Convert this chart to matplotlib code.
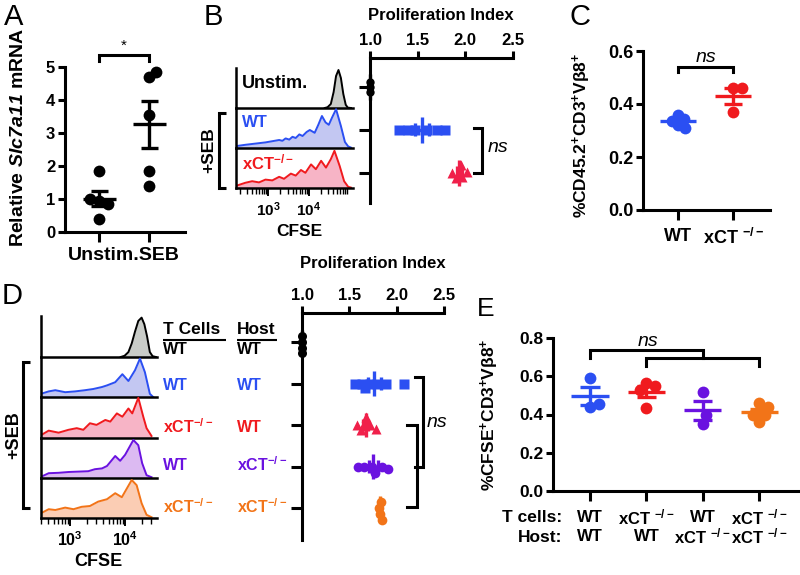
import numpy as np
import matplotlib
matplotlib.use('Agg')
import matplotlib.pyplot as plt
from matplotlib.lines import Line2D
from matplotlib.ticker import LogLocator, NullFormatter, FixedLocator

plt.rcParams['font.family'] = ['Liberation Sans', 'DejaVu Sans']
plt.rcParams['font.weight'] = 'bold'
plt.rcParams['mathtext.fontset'] = 'custom'
plt.rcParams['mathtext.rm'] = 'Liberation Sans'
plt.rcParams['mathtext.bf'] = 'Liberation Sans:bold'
plt.rcParams['mathtext.it'] = 'Liberation Sans:italic'
plt.rcParams['mathtext.bfit'] = 'Liberation Sans:bold:italic'

# ---------------- data ----------------
# A: relative Slc7a11 mRNA
a_labels = ['Unstim.', 'SEB']
a_unstim = [1.85, 0.95, 0.85, 1.0, 0.4]
a_seb = [4.7, 4.85, 3.55, 1.85, 1.4]

# B: CFSE histograms (log10 CFSE, relative height)
b_unstim_log = [4.40, 4.47, 4.55, 4.62, 4.68, 4.74, 4.80, 4.86, 4.92, 4.97, 5.05]
b_unstim_h = [0.0, 0.02, 0.10, 0.40, 0.80, 0.95, 0.75, 0.35, 0.08, 0.01, 0.0]
b_wt_log = [2.22, 2.43, 2.68, 2.93, 3.10, 3.27, 3.35, 3.43, 3.52, 3.60, 3.68, 3.77, 3.85,
            3.95, 4.03, 4.15, 4.24, 4.33, 4.42, 4.50, 4.58, 4.68, 4.80, 4.90, 4.98, 5.05]
b_wt_h = [0.05, 0.08, 0.11, 0.14, 0.17, 0.20, 0.18, 0.24, 0.21, 0.28, 0.25, 0.34, 0.30,
          0.40, 0.45, 0.38, 0.58, 0.80, 0.64, 0.58, 0.76, 0.97, 0.55, 0.15, 0.04, 0.01]
b_ko_log = [2.22, 2.43, 2.60, 2.77, 2.93, 3.10, 3.27, 3.39, 3.56, 3.68, 3.81, 3.92, 4.06,
            4.18, 4.31, 4.43, 4.55, 4.64, 4.77, 4.88, 4.98, 5.05]
b_ko_h = [0.06, 0.13, 0.17, 0.14, 0.21, 0.19, 0.28, 0.23, 0.36, 0.31, 0.45, 0.38, 0.59,
          0.47, 0.68, 0.51, 0.72, 0.93, 0.55, 0.17, 0.03, 0.01]
# B: proliferation index
b_pi_unstim = [1.0, 1.0, 1.0]
b_pi_wt = [1.30, 1.40, 1.47, 1.60, 1.70, 1.79]
b_pi_ko = [1.86, 1.90, 1.93, 1.95, 1.97, 2.02]

# C: %CD45.2+CD3+Vb8+
c_labels = ['WT', r'xCT $^{\mathbf{-/-}}$']
c_wt = [0.36, 0.345, 0.32, 0.31, 0.335]
c_ko = [0.46, 0.46, 0.37]

# D: CFSE histograms
d_unstim_log = [3.92, 3.99, 4.06, 4.12, 4.18, 4.24, 4.30, 4.35, 4.40, 4.45, 4.50, 4.56]
d_unstim_h = [0.0, 0.03, 0.12, 0.33, 0.62, 0.88, 0.96, 0.80, 0.50, 0.12, 0.02, 0.0]
d_wt_wt_log = [2.47, 2.61, 2.73, 2.91, 3.09, 3.27, 3.42, 3.58, 3.67, 3.82, 3.95, 4.06,
               4.18, 4.27, 4.36, 4.45, 4.51]
d_wt_wt_h = [0.08, 0.14, 0.17, 0.12, 0.14, 0.17, 0.20, 0.25, 0.29, 0.37, 0.57, 0.40,
             0.67, 0.96, 0.62, 0.08, 0.0]
d_ko_wt_log = [2.47, 2.61, 2.79, 2.97, 3.12, 3.24, 3.36, 3.48, 3.64, 3.73, 3.85, 3.95,
               4.06, 4.13, 4.24, 4.33, 4.39, 4.48]
d_ko_wt_h = [0.07, 0.18, 0.13, 0.20, 0.24, 0.20, 0.36, 0.32, 0.44, 0.40, 0.60, 0.52,
             0.72, 0.60, 0.98, 0.52, 0.24, 0.05]
d_wt_ko_log = [2.47, 2.61, 2.79, 2.97, 3.15, 3.33, 3.45, 3.58, 3.67, 3.82, 3.91, 4.00,
               4.15, 4.24, 4.31, 4.39, 4.48]
d_wt_ko_h = [0.03, 0.12, 0.13, 0.15, 0.16, 0.17, 0.22, 0.24, 0.30, 0.55, 0.43, 0.58,
             0.95, 0.82, 0.37, 0.07, 0.02]
d_ko_ko_log = [2.47, 2.61, 2.73, 2.91, 3.06, 3.21, 3.36, 3.51, 3.67, 3.82, 3.94, 4.12,
               4.21, 4.30, 4.39, 4.48]
d_ko_ko_h = [0.12, 0.22, 0.20, 0.26, 0.22, 0.28, 0.30, 0.41, 0.47, 0.62, 0.52, 0.95,
             0.82, 0.37, 0.08, 0.02]
d_tcells = ['WT', 'WT', r'xCT$^{\mathbf{-/-}}$', 'WT', r'xCT$^{\mathbf{-/-}}$']
d_host = ['WT', 'WT', 'WT', r'xCT$^{\mathbf{-/-}}$', r'xCT$^{\mathbf{-/-}}$']
# D: proliferation index
d_pi_unstim = [1.0, 1.0, 1.0, 1.0]
d_pi_wt_wt = [1.56, 1.63, 1.67, 1.72, 1.79, 1.89, 2.08]
d_pi_ko_wt = [1.58, 1.62, 1.65, 1.68, 1.72, 1.78]
d_pi_wt_ko = [1.59, 1.66, 1.74, 1.77, 1.85, 1.91]
d_pi_ko_ko = [1.81, 1.82, 1.83, 1.84]

# E: %CFSE+CD3+Vb8+
e_tcells = ['WT', r'xCT $^{\mathbf{-/-}}$', 'WT', r'xCT $^{\mathbf{-/-}}$']
e_host = ['WT', 'WT', r'xCT $^{\mathbf{-/-}}$', r'xCT $^{\mathbf{-/-}}$']
e_vals = [[0.59, 0.44, 0.455],
          [0.565, 0.55, 0.53, 0.435],
          [0.518, 0.352, 0.396],
          [0.46, 0.44, 0.36, 0.395, 0.40]]

# colours
BLUE = '#2b4ff2'
RED = '#f01a1e'
PINK = '#f0204a'
PURPLE = '#6a12e0'
ORANGE = '#f27418'
BLUE_F, RED_F, PURP_F, ORNG_F, GREY_F = '#c3c7f2', '#f7b4c6', '#dcbaf2', '#fbcdb4', '#c9ccc8'

W, H = 800, 575
fig = plt.figure(figsize=(W / 100, H / 100), dpi=100)


def px_axes(x0, x1, y0, y1):
    return fig.add_axes([x0 / W, 1 - y1 / H, (x1 - x0) / W, (y1 - y0) / H])


def ftext(x, y, s, **kw):
    kw.setdefault('ha', 'center')
    kw.setdefault('va', 'center')
    return fig.text(x / W, 1 - y / H, s, **kw)


def fline(xs, ys, lw=2.2, color='k'):
    fig.add_artist(Line2D([x / W for x in xs], [1 - y / H for y in ys], lw=lw,
                          color=color, solid_capstyle='butt', solid_joinstyle='miter'))


def ppu(ax):
    bb = ax.get_position()
    x0, x1 = ax.get_xlim()
    y0, y1 = ax.get_ylim()
    return bb.width * W / abs(x1 - x0), bb.height * H / abs(y1 - y0)


def swarm(vals, p_val, diam, min_frac=0.75):
    # spread overlapping points sideways (pixels)
    steps = sorted(np.arange(-4, 4.01, 0.125), key=lambda c: (abs(c), -c))
    placed, offs = [], []
    for v in vals:
        p = v * p_val
        o = 0.0
        for c in steps:
            o = c * diam
            if all(np.hypot(p - pp, o - oo) >= min_frac * diam for pp, oo in placed):
                break
        placed.append((p, o))
        offs.append(o)
    return np.array(offs)


def dot_group(ax, cat, vals, color, marker='o', ms=8, horizontal=False,
              mean_half=0.33, cap_half=0.17, lw=2.4, min_frac=0.75):
    vals = np.asarray(vals, float)
    px, py = ppu(ax)
    p_val, p_cat = (px, py) if horizontal else (py, px)
    offs = swarm(vals, p_val, ms * 100 / 72, min_frac) / p_cat
    m = vals.mean()
    sem = vals.std(ddof=1) / np.sqrt(len(vals)) if len(vals) > 1 else 0.0
    pts = cat + offs
    segs = [([cat - mean_half, cat + mean_half], [m, m]),
            ([cat, cat], [m - sem, m + sem]),
            ([cat - cap_half, cat + cap_half], [m + sem, m + sem]),
            ([cat - cap_half, cat + cap_half], [m - sem, m - sem])]
    if horizontal:
        ax.plot(vals, pts, ls='', marker=marker, ms=ms, color=color, mec='none',
                zorder=3, clip_on=False)
        for c, v in segs:
            ax.plot(v, c, color=color, lw=lw, zorder=4, solid_capstyle='butt', clip_on=False)
    else:
        ax.plot(pts, vals, ls='', marker=marker, ms=ms, color=color, mec='none',
                zorder=3, clip_on=False)
        for c, v in segs:
            ax.plot(c, v, color=color, lw=lw, zorder=4, solid_capstyle='butt', clip_on=False)


def style_dot_axes(ax, lw=2.2):
    for s in ['top', 'right']:
        ax.spines[s].set_visible(False)
    for s in ['left', 'bottom']:
        ax.spines[s].set_linewidth(lw)
    ax.tick_params(width=lw, length=5, labelsize=12.5, pad=2)


def hist_stack(x0, x1, rows, lo, hi, curves, label_size=11):
    axes = []
    for i, (top, bot) in enumerate(rows):
        ax = px_axes(x0, x1, top, bot)
        ax.set_xscale('log')
        ax.set_xlim(10 ** lo, 10 ** hi)
        ax.set_ylim(0, 1)
        logs, h, lc, fc = curves[i]
        x = 10 ** np.asarray(logs)
        ax.fill_between(x, 0, h, color=fc, lw=0)
        ax.plot(x, h, color=lc, lw=1.4)
        ax.patch.set_alpha(0)
        for s in ['top', 'right']:
            ax.spines[s].set_visible(False)
        for s in ['left', 'bottom']:
            ax.spines[s].set_linewidth(1.8)
        ax.set_yticks([])
        if i < len(rows) - 1:
            ax.tick_params(axis='x', which='both', bottom=False, labelbottom=False)
        else:
            ax.xaxis.set_major_locator(FixedLocator([1e3, 1e4]))
            ax.xaxis.set_major_formatter(plt.FuncFormatter(
                lambda v, p: r'$10^{%d}$' % round(np.log10(v))))
            ax.xaxis.set_minor_locator(LogLocator(base=10, subs=np.arange(2, 10)))
            ax.xaxis.set_minor_formatter(NullFormatter())
            ax.tick_params(axis='x', which='major', length=6, width=1.4,
                           labelsize=label_size, pad=3)
            ax.tick_params(axis='x', which='minor', length=4, width=1.0)
        axes.append(ax)
    return axes


def prolif_axes(x0, x1, y0, y1, ymin, ymax, nrows):
    ax = px_axes(x0, x1, y0, y1)
    ax.set_xlim(1.0, 2.5)
    ax.set_ylim(ymax, ymin)
    ax.patch.set_alpha(0)
    ax.spines['right'].set_visible(False)
    ax.spines['bottom'].set_visible(False)
    ax.spines['top'].set_linewidth(2.2)
    ax.spines['left'].set_linewidth(2.2)
    ax.xaxis.tick_top()
    ax.set_xticks([1.0, 1.5, 2.0, 2.5])
    ax.set_xticklabels(['%.1f' % v for v in [1.0, 1.5, 2.0, 2.5]])
    ax.set_yticks(range(nrows))
    ax.set_yticklabels([])
    ax.tick_params(axis='x', width=2.2, length=5, labelsize=12, pad=2)
    ax.tick_params(axis='y', width=2.2, length=8)
    return ax


def bracket_h(ax, y, x_a, x_b, leg, lw=2.2):
    # horizontal bracket with legs going down (data units)
    ax.plot([x_a, x_a, x_b, x_b], [y - leg, y, y, y - leg], color='k', lw=lw,
            clip_on=False, solid_joinstyle='miter')


def bracket_v(ax, x, y_a, y_b, leg, lw=2.2):
    ax.plot([x - leg, x, x, x - leg], [y_a, y_a, y_b, y_b], color='k', lw=lw,
            clip_on=False, solid_joinstyle='miter')


HKW = dict(horizontal=True, mean_half=0.3, cap_half=0.15, min_frac=0.6)

# ---------------- panel A ----------------
axA = px_axes(65, 185, 67, 232)
axA.set_xlim(-0.68, 1.72)
axA.set_ylim(0, 5)
style_dot_axes(axA)
axA.set_yticks(range(6))
axA.tick_params(axis='y', labelsize=12)
axA.set_xticks([0, 1])
axA.set_xticklabels([])
axA.tick_params(axis='x', length=7)
dot_group(axA, 0, a_unstim, 'k', ms=8.5)
dot_group(axA, 1, a_seb, 'k', ms=8.5)
bracket_h(axA, 5.36, 0, 1, 0.17)
axA.text(0.5, 5.42, '*', ha='center', va='bottom', fontsize=11, weight='normal')
ftext(124, 255, ''.join(a_labels), fontsize=14)
ftext(19, 137, r'Relative $\mathbfit{Slc7a11}$ mRNA', rotation=90, fontsize=14)
ftext(14, 17, 'A', fontsize=21, weight='normal')

# ---------------- panel B ----------------
ftext(213, 17, 'B', fontsize=21, weight='normal')
hist_stack(236, 353, [(68, 108), (108, 148), (148, 188)], 2.2, 5.1,
           [(b_unstim_log, b_unstim_h, 'k', GREY_F),
            (b_wt_log, b_wt_h, BLUE, BLUE_F),
            (b_ko_log, b_ko_h, RED, RED_F)])
ftext(242, 84, 'Unstim.', ha='left', fontsize=13)
ftext(242, 122, 'WT', ha='left', fontsize=12, color=BLUE)
ftext(242, 162, r'xCT$^{\mathbf{-/-}}$', ha='left', fontsize=12, color=RED)
ftext(299, 231, 'CFSE', fontsize=12.5)
ftext(209, 150, '+SEB', rotation=90, fontsize=12.5)
fline([226, 219, 219, 226], [113, 113, 188, 188])

axBp = prolif_axes(370, 513, 58, 203, -0.67, 2.7, 3)
dot_group(axBp, 0, b_pi_unstim, 'k', ms=6, **HKW)
dot_group(axBp, 1, b_pi_wt, BLUE, marker='s', ms=7, **HKW)
dot_group(axBp, 2, b_pi_ko, PINK, marker='^', ms=7.5, **HKW)
bracket_v(axBp, 2.17, 0.95, 2.0, 0.075)
axBp.text(2.23, 1.4, 'ns', ha='left', va='center', style='italic', weight='normal', fontsize=14)
ftext(441, 15, 'Proliferation Index', fontsize=12)

# ---------------- panel C ----------------
ftext(580, 17, 'C', fontsize=21, weight='normal')
axC = px_axes(643, 770, 51, 210)
axC.set_xlim(-0.636, 1.67)
axC.set_ylim(0, 0.6)
style_dot_axes(axC)
axC.set_yticks([0, 0.2, 0.4, 0.6])
axC.set_yticklabels(['%.1f' % v for v in [0, 0.2, 0.4, 0.6]])
axC.set_xticks([0, 1])
axC.set_xticklabels(c_labels)
axC.tick_params(axis='x', length=7, labelsize=13, pad=6)
axC.tick_params(axis='y', labelsize=13)
dot_group(axC, 0, c_wt, BLUE, ms=8.5, min_frac=0.6)
dot_group(axC, 1, c_ko, RED, ms=8.5)
bracket_h(axC, 0.54, 0, 1, 0.02)
axC.text(0.5, 0.577, 'ns', ha='center', va='center', style='italic', weight='normal', fontsize=14)
ftext(582, 135, r'%CD45.2$^{\mathbf{+}}$CD3$^{\mathbf{+}}$Vβ8$^{\mathbf{+}}$',
      rotation=90, fontsize=12.5)

# ---------------- panel D ----------------
ftext(12, 296, 'D', fontsize=21, weight='normal')
hist_stack(41, 157, [(316, 357), (357, 397), (397, 438), (438, 478), (478, 518)], 2.47, 4.58,
           [(d_unstim_log, d_unstim_h, 'k', GREY_F),
            (d_wt_wt_log, d_wt_wt_h, BLUE, BLUE_F),
            (d_ko_wt_log, d_ko_wt_h, RED, RED_F),
            (d_wt_ko_log, d_wt_ko_h, PURPLE, PURP_F),
            (d_ko_ko_log, d_ko_ko_h, ORANGE, ORNG_F)], label_size=11.5)
ftext(98, 562, 'CFSE', fontsize=13)
ftext(14, 435, '+SEB', rotation=90, fontsize=13)
fline([30, 23, 23, 30], [362, 362, 508, 508])
ftext(163, 330, 'T Cells', ha='left', fontsize=12.5)
ftext(237, 330, 'Host', ha='left', fontsize=12.5)
fline([163, 226], [339.5, 339.5], lw=1.5)
fline([237, 277], [339.5, 339.5], lw=1.5)
d_row_colors = ['k', BLUE, RED, PURPLE, ORANGE]
d_row_y = [349, 385, 427, 465, 507]
for tc, ho, col, yy in zip(d_tcells, d_host, d_row_colors, d_row_y):
    ftext(163, yy, tc, ha='left', fontsize=11.5, color=col)
    ftext(237, yy, ho, ha='left', fontsize=11.5, color=col)

axDp = prolif_axes(302, 444, 313, 540, -0.70, 4.77, 5)
dot_group(axDp, 0, d_pi_unstim, 'k', ms=6.5, **HKW)
dot_group(axDp, 1, d_pi_wt_wt, BLUE, marker='s', ms=7, **HKW)
dot_group(axDp, 2, d_pi_ko_wt, PINK, marker='^', ms=7.5, **HKW)
dot_group(axDp, 3, d_pi_wt_ko, PURPLE, ms=7, **HKW)
dot_group(axDp, 4, d_pi_ko_ko, ORANGE, ms=7, **HKW)
bracket_v(axDp, 2.28, 0.85, 3.0, 0.09)
bracket_v(axDp, 2.21, 2.0, 3.98, 0.1)
axDp.text(2.32, 1.95, 'ns', ha='left', va='center', style='italic', weight='normal', fontsize=14)
ftext(373, 263, 'Proliferation Index', fontsize=12)

# ---------------- panel E ----------------
ftext(486, 309, 'E', fontsize=19, weight='normal')
axE = px_axes(553, 798, 338, 491)
axE.set_xlim(-0.657, 3.69)
axE.set_ylim(0, 0.8)
style_dot_axes(axE)
axE.set_yticks([0, 0.2, 0.4, 0.6, 0.8])
axE.set_yticklabels(['%.1f' % v for v in [0, 0.2, 0.4, 0.6, 0.8]])
axE.set_xticks(range(4))
axE.set_xticklabels([])
axE.tick_params(axis='x', length=7)
for i, (vals, col) in enumerate(zip(e_vals, [BLUE, RED, PURPLE, ORANGE])):
    dot_group(axE, i, vals, col, ms=8.5)
for i, (tc, ho) in enumerate(zip(e_tcells, e_host)):
    axE.text(i, -0.17, tc, transform=axE.get_xaxis_transform(), ha='center', va='center', fontsize=12)
    axE.text(i, -0.30, ho, transform=axE.get_xaxis_transform(), ha='center', va='center', fontsize=12)
ftext(562, 517, 'T cells:', ha='right', fontsize=12.5)
ftext(562, 537, 'Host:', ha='right', fontsize=12.5)
bracket_h(axE, 0.738, 0, 2, 0.042)
bracket_h(axE, 0.696, 1, 3, 0.042)
axE.text(1.03, 0.78, 'ns', ha='center', va='center', style='italic', weight='normal', fontsize=14)
ftext(490, 415, r'%CFSE$^{\mathbf{+}}$CD3$^{\mathbf{+}}$Vβ8$^{\mathbf{+}}$', rotation=90, fontsize=12.5)

fig.savefig('out.png', dpi=100)
